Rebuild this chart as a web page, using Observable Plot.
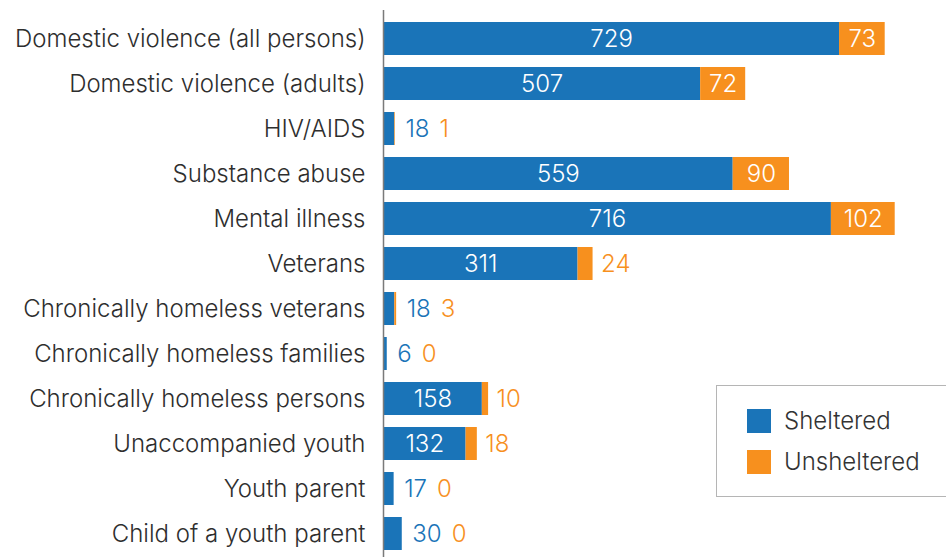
<!DOCTYPE html>
<html><head><meta charset="utf-8">
<script src="https://cdn.jsdelivr.net/npm/d3@7"></script>
<script src="https://cdn.jsdelivr.net/npm/@observablehq/plot@0.6"></script>
<style>
body{margin:0;background:#fff;font-family:Inter,"Open Sans",sans-serif;}
#wrap{position:relative;width:946px;height:557px;overflow:hidden;}
#legend{position:absolute;left:716px;top:385px;width:240px;height:112px;border:1.5px solid #b5b5b5;box-sizing:border-box;background:#fff;}
.item{position:absolute;left:30px;display:flex;align-items:center;font-size:24px;font-weight:300;color:#333;}
.sw{width:24px;height:24px;margin-right:13px;}
</style></head>
<body><div id="wrap"></div>
<script>
const categories = ["Domestic violence (all persons)","Domestic violence (adults)","HIV/AIDS","Substance abuse","Mental illness","Veterans","Chronically homeless veterans","Chronically homeless families","Chronically homeless persons","Unaccompanied youth","Youth parent","Child of a youth parent"];
const sheltered = [729,507,18,559,716,311,18,6,158,132,17,30];
const unsheltered = [73,72,1,90,102,24,3,0,10,18,0,0];
const seriesNames = ["Sheltered","Unsheltered"];
const colors = ["#1a74b8","#f7901e"];

const fontFamily = "Inter, 'Open Sans', sans-serif";
const fs = 24, fw = 300;
const ctx = document.createElement("canvas").getContext("2d");
ctx.font = `${fw} ${fs}px Inter, 'Open Sans', sans-serif`;
const tw = s => ctx.measureText(s).width;

const data = [];
categories.forEach((c,i)=>{
  data.push({category:c, series:"Sheltered", value:sheltered[i]});
  data.push({category:c, series:"Unsheltered", value:unsheltered[i]});
});

const inS = [], outS = [], inU = [], outU = [], trailU = [];
categories.forEach((c,i)=>{
  const s = sheltered[i], u = unsheltered[i], t = s+u;
  const sIn = s >= 60;
  if (sIn) inS.push({category:c, x:s/2, text:String(s)});
  else outS.push({category:c, x:t, text:String(s)});
  if (u >= 50) inU.push({category:c, x:s+u/2, text:String(u)});
  else if (sIn) outU.push({category:c, x:t, text:String(u)});
  else trailU.push({category:c, x:t, text:String(u), off: 10 + tw(String(s)) + 10});
});

const common = {x: "x", y: "category", text: "text", fontSize: fs, fontWeight: fw};
const chart = Plot.plot({
  width: 946, height: 557,
  marginLeft: 383, marginRight: 0, marginTop: 17, marginBottom: 2,
  style: {fontFamily, background: "#fff"},
  x: {domain: [0, 900], axis: null},
  y: {domain: categories, label: null, paddingInner: 0.27, paddingOuter: 0.1},
  color: {domain: seriesNames, range: colors},
  marks: [
    Plot.barX(data, {x: "value", y: "category", fill: "series"}),
    Plot.ruleX([0], {stroke: "#7a7a7a", strokeWidth: 1.5, insetTop: -7, insetBottom: -3}),
    Plot.axisY({tickSize: 0, tickPadding: 18, fontSize: 24, fontWeight: 300, color: "#2e2e2e"}),
    Plot.text(inS, {...common, fill: "#fff"}),
    Plot.text(inU, {...common, fill: "#fff"}),
    Plot.text(outS, {...common, fill: colors[0], textAnchor: "start", dx: 10}),
    Plot.text(outU, {...common, fill: colors[1], textAnchor: "start", dx: 8}),
    ...trailU.map(d => Plot.text([d], {...common, fill: colors[1], textAnchor: "start", dx: d.off}))
  ]
});
const wrap = document.getElementById("wrap");
wrap.appendChild(chart);
const lg = document.createElement("div");
lg.id = "legend";
seriesNames.forEach((n,i)=>{
  const it = document.createElement("div");
  it.className = "item";
  it.style.top = (i === 0 ? 20 : 61) + "px";
  it.innerHTML = `<span class="sw" style="background:${colors[i]}"></span><span>${n}</span>`;
  lg.appendChild(it);
});
wrap.appendChild(lg);
</script></body></html>
